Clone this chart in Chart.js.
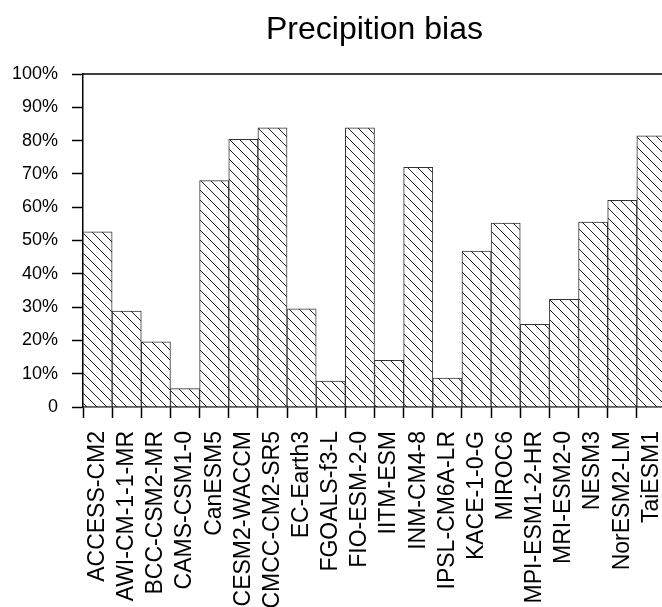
<!DOCTYPE html>
<html>
<head>
<meta charset="utf-8">
<script src="https://cdn.jsdelivr.net/npm/chart.js@4/dist/chart.umd.min.js"></script>
<style>
  html, body { margin: 0; padding: 0; background: #fff; overflow: hidden; }
  #wrap { position: relative; width: 670px; height: 607px; }
</style>
</head>
<body>
<div id="wrap"><canvas id="grafico"></canvas></div>
<script>
const modelos = ['ACCESS-CM2', 'AWI-CM-1-1-MR', 'BCC-CSM2-MR', 'CAMS-CSM1-0', 'CanESM5',
    'CESM2-WACCM', 'CMCC-CM2-SR5', 'EC-Earth3', 'FGOALS-f3-L', 'FIO-ESM-2-0',
    'IITM-ESM', 'INM-CM4-8', 'IPSL-CM6A-LR', 'KACE-1-0-G', 'MIROC6',
    'MPI-ESM1-2-HR', 'MRI-ESM2-0', 'NESM3', 'NorESM2-LM', 'TaiESM1'];
const sesgo = [52.6, 28.8, 19.6, 5.5, 68.0, 80.4, 83.8, 29.5, 7.8, 83.8,
    14.0, 72.0, 8.7, 46.8, 55.2, 24.8, 32.3, 55.5, 62.1, 81.4];
const ticksY = [0, 10, 20, 30, 40, 50, 60, 70, 80, 90, 100];
const titulo = 'Precipition bias';

const fuente = '"Liberation Sans", Arial, Helvetica, sans-serif';

// patron de rayas diagonales (\\\)
function crearRayado() {
    const c = document.createElement('canvas');
    c.width = 10;
    c.height = 10;
    const g = c.getContext('2d');
    g.fillStyle = '#fff';
    g.fillRect(0, 0, 10, 10);
    g.strokeStyle = '#222';
    g.lineWidth = 1;
    g.beginPath();
    g.moveTo(-2, -2); g.lineTo(12, 12);
    g.moveTo(-2, 8); g.lineTo(2, 12);
    g.moveTo(8, -2); g.lineTo(12, 2);
    g.stroke();
    return g.createPattern(c, 'repeat');
}

// marco superior y titulo centrado sobre el area del grafico
const marco = {
    id: 'marco',
    afterDraw(chart) {
        const { ctx, chartArea } = chart;
        ctx.save();
        ctx.strokeStyle = '#000';
        ctx.lineWidth = 1.5;
        ctx.beginPath();
        ctx.moveTo(chartArea.left, chartArea.top);
        ctx.lineTo(chartArea.right, chartArea.top);
        ctx.lineTo(chartArea.right, chartArea.bottom);
        ctx.stroke();
        ctx.fillStyle = '#000';
        ctx.font = '32px ' + fuente;
        ctx.textAlign = 'center';
        ctx.textBaseline = 'alphabetic';
        ctx.fillText(titulo, (chartArea.left + chartArea.right) / 2, 39);
        ctx.restore();
    }
};

const ctxBarras = document.getElementById('grafico');
new Chart(ctxBarras, {
    type: 'bar',
    data: {
        labels: modelos,
        datasets: [{
            data: sesgo,
            backgroundColor: crearRayado(),
            borderColor: '#333',
            borderWidth: 1,
            categoryPercentage: 1,
            barPercentage: 1
        }]
    },
    options: {
        responsive: true,
        maintainAspectRatio: false,
        animation: false,
        layout: { padding: { left: 0, right: 4, top: 74, bottom: 0 } },
        scales: {
            x: {
                grid: { drawOnChartArea: false, drawTicks: true, tickLength: 11, tickColor: '#000', tickWidth: 1.5 },
                border: { display: true, color: '#000', width: 1.5 },
                ticks: {
                    color: '#000',
                    font: { family: fuente, size: 23 },
                    minRotation: 90,
                    maxRotation: 90,
                    autoSkip: false,
                    padding: 13
                },
                afterFit(scale) {
                    scale.height = 200;
                    scale.paddingLeft = 0;
                    scale.paddingRight = 0;
                }
            },
            y: {
                min: 0,
                max: 100,
                afterBuildTicks(scale) { scale.ticks = ticksY.map(v => ({ value: v })); },
                grid: { drawOnChartArea: false, drawTicks: true, tickLength: 11, tickColor: '#000', tickWidth: 1.5 },
                border: { display: true, color: '#000', width: 1.5 },
                ticks: {
                    color: '#000',
                    font: { family: fuente, size: 18 },
                    padding: 14,
                    callback: v => v === 0 ? '0' : v + '%'
                },
                afterFit(scale) {
                    scale.width = 83;
                    scale.paddingTop = 0;
                    scale.paddingBottom = 0;
                }
            }
        },
        plugins: {
            legend: { display: false },
            tooltip: { enabled: false },
            title: { display: false }
        }
    },
    plugins: [marco]
});
</script>
</body>
</html>
